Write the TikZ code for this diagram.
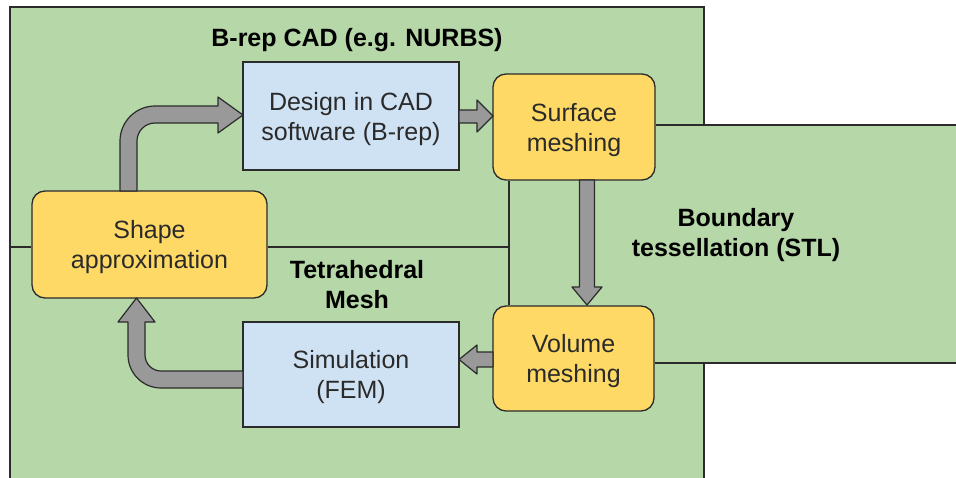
\documentclass[tikz,border=0pt]{standalone}
\usepackage{fontspec}
\setmainfont{Liberation Sans}
\usetikzlibrary{calc}
\definecolor{panelgreen}{HTML}{B6D7A8}
\definecolor{stepyellow}{HTML}{FFD966}
\definecolor{toolblue}{HTML}{CFE2F3}
\definecolor{arrowgray}{HTML}{999999}
\definecolor{edgeink}{HTML}{2B2B2B}
\definecolor{bodyink}{HTML}{2A2A2A}

% two centred lines, set a little low in their box
\newcommand\twolines[2]{\vbox{\kern6pt\halign{\hfil##\hfil\cr#1\cr#2\cr}}}

\begin{document}
\begin{tikzpicture}[x=1pt,y=-1pt,
  panelline/.style={draw=edgeink, line width=1.5pt},
  boxtext/.style={text=bodyink, inner sep=0pt,
    font=\fontsize{25}{30}\selectfont},
  stage/.style={boxtext, draw=edgeink, line width=1.3pt, fill=stepyellow,
    rounded corners=13pt},
  tool/.style={boxtext, draw=edgeink, line width=1.3pt, fill=toolblue},
  region/.style={align=center, text=black, inner sep=0pt,
    font=\bfseries\fontsize{25}{30}\selectfont},
  barrow/.style={draw=edgeink, line width=1.2pt, fill=arrowgray, line join=round}]

\useasboundingbox (0,0) rectangle (956,477);
\fill[white] (0,0) rectangle (956,477);

% green panels: CAD / mesh area and the STL strip to the right
\fill[panelgreen] (10,7) rectangle (704,478);
\fill[panelgreen] (650,125) rectangle (956,363);
\draw[panelline] (704,125) -- (704,7) -- (10,7) -- (10,478);
\draw[panelline] (704,363) -- (704,478);

% region boundaries
\coordinate (lm) at (10,247);
\coordinate (jn) at (509,247);
\coordinate (rt) at (956,125);
\coordinate (rb) at (956,363);

% process steps
\node[stage, minimum width=235pt, minimum height=107pt] (shape) at (149.5,244.5) {\twolines{Shape}{approximation}};
\node[tool,  minimum width=216pt, minimum height=108pt] (design) at (351,116) {\twolines{Design in CAD}{software (B-rep)}};
\node[stage, minimum width=162pt, minimum height=106pt] (surface) at (574,127) {\twolines{Surface}{meshing}};
\node[stage, minimum width=161pt, minimum height=105pt] (volume) at (573.5,358.5) {\twolines{Volume}{meshing}};
\node[tool,  minimum width=216pt, minimum height=105pt] (sim) at (351,374.5) {\twolines{Simulation}{(FEM)}};

\draw[panelline] (lm) -- (shape.west |- lm);
\draw[panelline] (shape.east |- jn) -- (jn);
\draw[panelline] (surface.south -| jn) -- (volume.north -| jn);
\draw[panelline] (surface.east |- rt) -- (rt);
\draw[panelline] (volume.east |- rb) -- (rb);

% region labels
\node[region] (brep) at (357,40) {B-rep CAD (e.g. NURBS)};
\node[region] (stl) at (736,235) {Boundary\\tessellation (STL)};
\node[region] (tet) at (357,284.5) {Tetrahedral\\Mesh};

% block arrows between the steps
\draw[barrow] (120,191) -- (120,141) .. controls (120,121.7) and (135.7,106) .. (155,106)
  -- (218,106) -- (218,97) -- (243,115) -- (218,133) -- (218,123) -- (155,123)
  .. controls (145.1,123) and (137,131.1) .. (137,141) -- (137,191) -- cycle;
\draw[barrow] (459,110) -- (477,110) -- (477,100) -- (493,116) -- (477,132) -- (477,123) -- (459,123) -- cycle;
\draw[barrow] (579.5,180) -- (579.5,287) -- (572,287) -- (587,305) -- (602,287) -- (594.5,287) -- (594.5,180) -- cycle;
\draw[barrow] (493,352) -- (477,352) -- (477,345) -- (459,359.5) -- (477,374) -- (477,367) -- (493,367) -- cycle;
\draw[barrow] (243,371) -- (161,371) .. controls (152.2,371) and (145,363.8) .. (145,355)
  -- (145,322) -- (155,322) -- (136.5,298) -- (118,322) -- (128,322) -- (128,355)
  .. controls (128,373.2) and (142.8,388) .. (161,388) -- (243,388) -- cycle;
\end{tikzpicture}
\end{document}
